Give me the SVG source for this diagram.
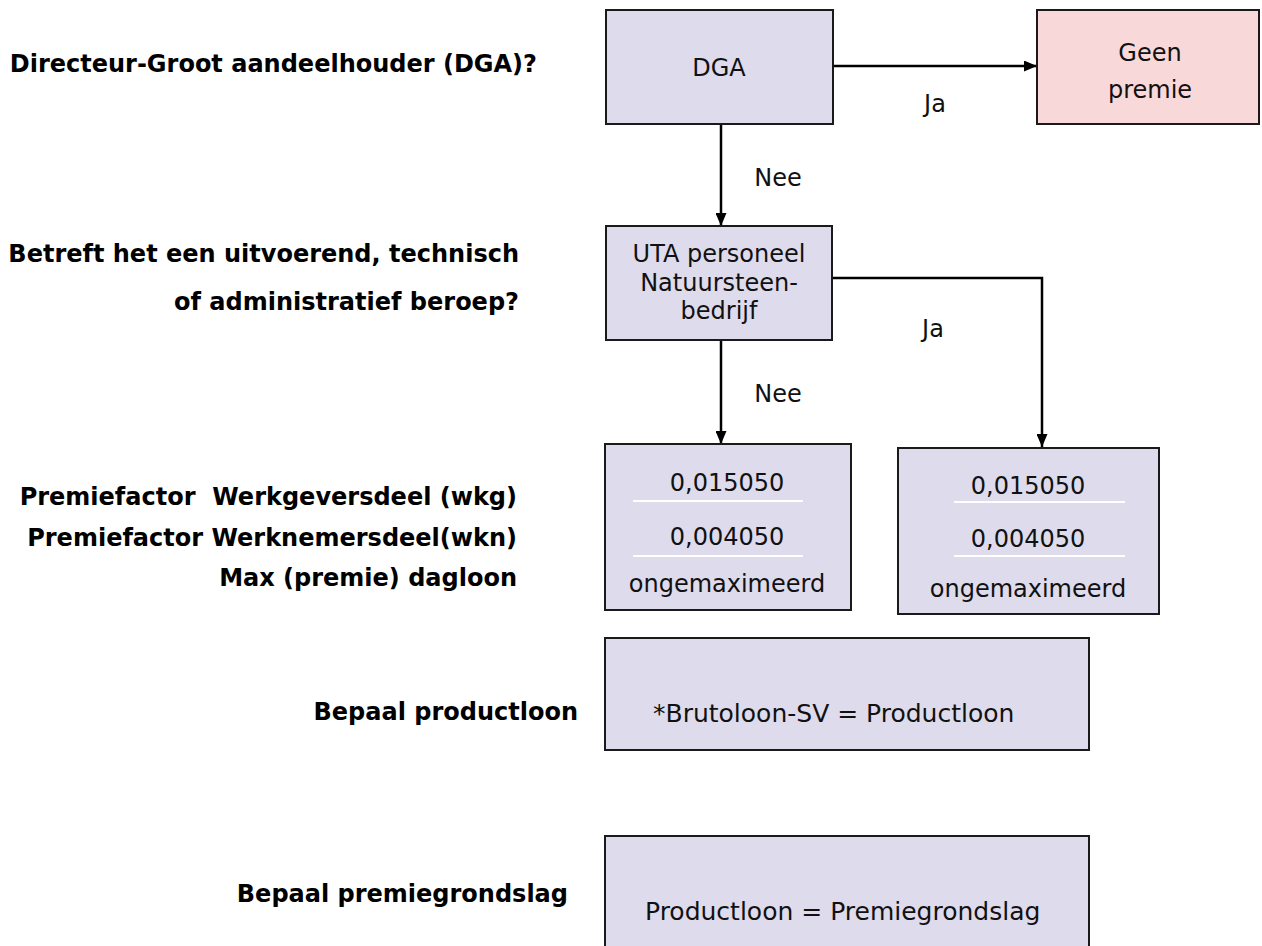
<svg xmlns="http://www.w3.org/2000/svg" width="1262" height="946" viewBox="0 0 1262 946">
<defs>
<style>
.box{fill:#dedbec;stroke:#1a1a1a;stroke-width:2}
.pink{fill:#f9d8d9;stroke:#1a1a1a;stroke-width:2}
.t{font-family:"DejaVu Sans","Verdana",sans-serif;font-size:24px;fill:#111}
.tb{font-family:"DejaVu Sans","Verdana",sans-serif;font-size:24px;font-weight:bold;fill:#000}
.big{font-size:25px}
.sep{stroke:#ffffff;stroke-width:2}
.conn{stroke:#000;stroke-width:2.5;fill:none}
</style>
<marker id="arr" viewBox="0 0 13 11" markerWidth="13" markerHeight="11" refX="13" refY="5.5" orient="auto" markerUnits="userSpaceOnUse">
<path d="M0,0 L13,5.5 L0,11 z" fill="#000"/>
</marker>
</defs>
<rect width="1262" height="946" fill="#fff"/>

<g id="labels">
<text class="tb" x="537" y="72" text-anchor="end">Directeur-Groot aandeelhouder (DGA)?</text>
<text class="tb" x="519" y="262" text-anchor="end">Betreft het een uitvoerend, technisch</text>
<text class="tb" x="519" y="310" text-anchor="end">of administratief beroep?</text>
<text class="tb" x="517" y="505" text-anchor="end" xml:space="preserve">Premiefactor  Werkgeversdeel (wkg)</text>
<text class="tb" x="517" y="546" text-anchor="end">Premiefactor Werknemersdeel(wkn)</text>
<text class="tb" x="517" y="586" text-anchor="end">Max (premie) dagloon</text>
<text class="tb" x="578" y="720" text-anchor="end">Bepaal productloon</text>
<text class="tb" x="568" y="902" text-anchor="end">Bepaal premiegrondslag</text>
</g>

<g id="connectors">
<line class="conn" x1="833" y1="66" x2="1037" y2="66" marker-end="url(#arr)"/>
<line class="conn" x1="721" y1="124" x2="721" y2="226" marker-end="url(#arr)"/>
<line class="conn" x1="721" y1="340" x2="721" y2="444" marker-end="url(#arr)"/>
<polyline class="conn" points="832,278 1042,278 1042,447" marker-end="url(#arr)"/>
<text class="t" x="935" y="112" text-anchor="middle">Ja</text>
<text class="t" x="778" y="186" text-anchor="middle">Nee</text>
<text class="t" x="933" y="337" text-anchor="middle">Ja</text>
<text class="t" x="778" y="402" text-anchor="middle">Nee</text>
</g>

<g id="node-dga">
<rect class="box" x="606" y="10" width="227" height="114"/>
<text class="t" x="719" y="76" text-anchor="middle">DGA</text>
</g>

<g id="node-geen">
<rect class="pink" x="1037" y="10" width="222" height="114"/>
<text class="t" x="1150" y="61" text-anchor="middle">Geen</text>
<text class="t" x="1150" y="98" text-anchor="middle">premie</text>
</g>

<g id="node-uta">
<rect class="box" x="606" y="226" width="226" height="114"/>
<text class="t" x="719" y="262" text-anchor="middle">UTA personeel</text>
<text class="t" x="719" y="291" text-anchor="middle">Natuursteen-</text>
<text class="t" x="719" y="319" text-anchor="middle">bedrijf</text>
</g>

<g id="node-factors-left">
<rect class="box" x="605" y="444" width="246" height="166"/>
<text class="t" x="727" y="491" text-anchor="middle">0,015050</text>
<line class="sep" x1="633" y1="501" x2="803" y2="501"/>
<text class="t" x="727" y="545" text-anchor="middle">0,004050</text>
<line class="sep" x1="633" y1="556" x2="803" y2="556"/>
<text class="t" x="727" y="592" text-anchor="middle">ongemaximeerd</text>
</g>

<g id="node-factors-right">
<rect class="box" x="898" y="448" width="261" height="166"/>
<text class="t" x="1028" y="494" text-anchor="middle">0,015050</text>
<line class="sep" x1="954" y1="502" x2="1125" y2="502"/>
<text class="t" x="1028" y="547" text-anchor="middle">0,004050</text>
<line class="sep" x1="954" y1="556" x2="1125" y2="556"/>
<text class="t" x="1028" y="597" text-anchor="middle">ongemaximeerd</text>
</g>

<g id="node-productloon">
<rect class="box" x="605" y="638" width="484" height="112"/>
<text class="t big" x="653" y="722">*Brutoloon-SV = Productloon</text>
</g>

<g id="node-premiegrondslag">
<rect class="box" x="605" y="836" width="484" height="120"/>
<text class="t big" x="645" y="920">Productloon = Premiegrondslag</text>
</g>
</svg>
